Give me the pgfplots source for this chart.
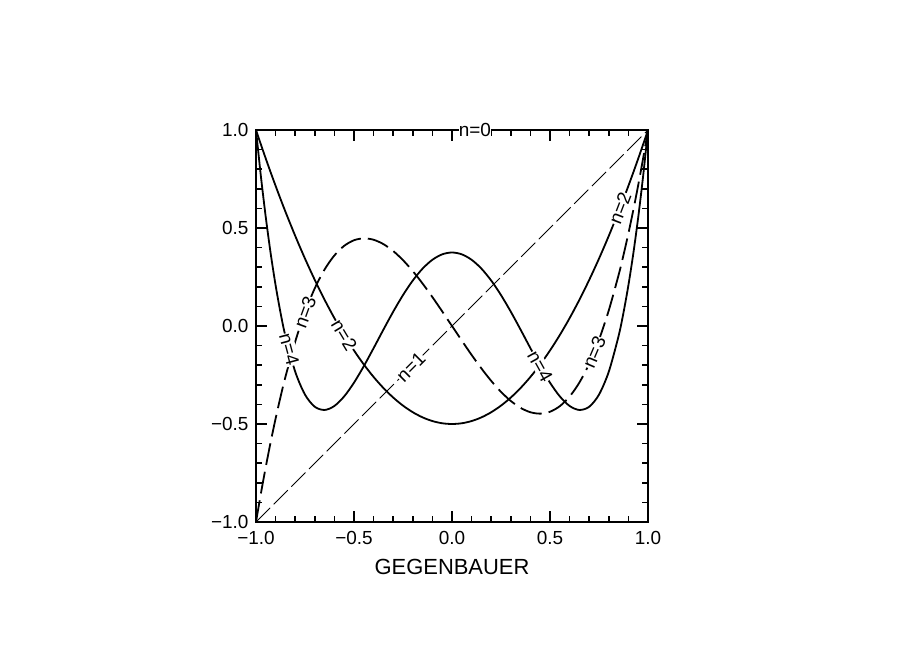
\documentclass[border=0pt]{standalone}
\usepackage{pgfplots}
\pgfplotsset{compat=1.18}
\usepackage{fontspec}
\setmainfont{Liberation Sans}
\begin{document}
\begin{tikzpicture}
\begin{axis}[
  at={(0,0)}, anchor=south west,
  scale only axis, width=392bp, height=392bp,
  xmin=-1, xmax=1, ymin=-1, ymax=1,
  axis line style={line width=2.4bp},
  tick style={line width=1.6bp, black},
  tick align=inside,
  major tick length=11bp, minor tick length=6bp,
  xtick={-1,-0.5,0,0.5,1}, ytick={-1,-0.5,0,0.5,1},
  minor tick num=4,
  xticklabels={−1.0,−0.5,0.0,0.5,1.0},
  yticklabels={−1.0,−0.5,0.0,0.5,1.0},
  ticklabel style={font=\fontsize{19}{19}\selectfont},
  xticklabel style={yshift=-6bp},
  yticklabel style={xshift=-4bp},
  xlabel={GEGENBAUER},
  xlabel style={font=\fontsize{22}{22}\selectfont, yshift=-7bp},
  clip=false,
]
% n=0
\addplot[black, line width=1.8bp] coordinates {(-1,1) (1,1)};
% n=1
\addplot[black, line width=0.8bp, dash pattern=on 20bp off 5bp] coordinates {(-1,-1) (1,1)};
% n=2
\addplot[black, line width=1.8bp, smooth] coordinates {
(-1,1) (-0.975,0.925938) (-0.95,0.85375) (-0.925,0.783438) (-0.9,0.715) (-0.875,0.648438)
(-0.85,0.58375) (-0.8,0.46) (-0.75,0.34375) (-0.7,0.235) (-0.65,0.13375) (-0.6,0.04)
(-0.55,-0.04625) (-0.5,-0.125) (-0.45,-0.19625) (-0.4,-0.26) (-0.35,-0.31625) (-0.3,-0.365)
(-0.25,-0.40625) (-0.2,-0.44) (-0.15,-0.46625) (-0.1,-0.485) (-0.05,-0.49625) (0,-0.5)
(0.05,-0.49625) (0.1,-0.485) (0.15,-0.46625) (0.2,-0.44) (0.25,-0.40625) (0.3,-0.365)
(0.35,-0.31625) (0.4,-0.26) (0.45,-0.19625) (0.5,-0.125) (0.55,-0.04625) (0.6,0.04)
(0.65,0.13375) (0.7,0.235) (0.75,0.34375) (0.8,0.46) (0.85,0.58375) (0.875,0.648438)
(0.9,0.715) (0.925,0.783438) (0.95,0.85375) (0.975,0.925938) (1,1)};
% n=3
\addplot[black, line width=1.8bp, smooth, dash pattern=on 22bp off 7bp] coordinates {
(-1,-1) (-0.975,-0.854648) (-0.95,-0.718438) (-0.925,-0.591133) (-0.9,-0.4725) (-0.875,-0.362305)
(-0.85,-0.260313) (-0.8,-0.08) (-0.75,0.070313) (-0.7,0.1925) (-0.65,0.288438) (-0.6,0.36)
(-0.55,0.409063) (-0.5,0.4375) (-0.45,0.447188) (-0.4,0.44) (-0.35,0.417813) (-0.3,0.3825)
(-0.25,0.335938) (-0.2,0.28) (-0.15,0.216563) (-0.1,0.1475) (-0.05,0.074688) (0,0)
(0.05,-0.074688) (0.1,-0.1475) (0.15,-0.216563) (0.2,-0.28) (0.25,-0.335938) (0.3,-0.3825)
(0.35,-0.417813) (0.4,-0.44) (0.45,-0.447188) (0.5,-0.4375) (0.55,-0.409063) (0.6,-0.36)
(0.65,-0.288438) (0.7,-0.1925) (0.75,-0.070313) (0.8,0.08) (0.85,0.260313) (0.875,0.362305)
(0.9,0.4725) (0.925,0.591133) (0.95,0.718438) (0.975,0.854648) (1,1)};
% n=4
\addplot[black, line width=1.8bp, smooth] coordinates {
(-1,1) (-0.975,0.763792) (-0.95,0.55409) (-0.925,0.369317) (-0.9,0.207938) (-0.875,0.068451)
(-0.85,-0.050598) (-0.8,-0.233) (-0.75,-0.350098) (-0.7,-0.412063) (-0.65,-0.42841) (-0.6,-0.408)
(-0.55,-0.359035) (-0.5,-0.289063) (-0.45,-0.204973) (-0.4,-0.113) (-0.35,-0.018723) (-0.3,0.072938)
(-0.25,0.157715) (-0.2,0.232) (-0.15,0.29284) (-0.1,0.337938) (-0.05,0.365652) (0,0.375)
(0.05,0.365652) (0.1,0.337938) (0.15,0.29284) (0.2,0.232) (0.25,0.157715) (0.3,0.072938)
(0.35,-0.018723) (0.4,-0.113) (0.45,-0.204973) (0.5,-0.289063) (0.55,-0.359035) (0.6,-0.408)
(0.65,-0.42841) (0.7,-0.412063) (0.75,-0.350098) (0.8,-0.233) (0.85,-0.050598) (0.875,0.068451)
(0.9,0.207938) (0.925,0.369317) (0.95,0.55409) (0.975,0.763792) (1,1)};
% curve labels
\tikzset{lab/.style={fill=white, inner sep=0.5bp, font=\fontsize{19}{19}\selectfont}}
\node[lab, inner sep=0bp] at (axis cs:0.117,1.0) {n=0};
\node[lab, rotate=45] at (axis cs:-0.21,-0.21) {n=1};
\node[lab, rotate=-59] at (axis cs:-0.55,-0.046) {n=2};
\node[lab, rotate=69] at (axis cs:0.857,0.60) {n=2};
\node[lab, rotate=70] at (axis cs:-0.75,0.07) {n=3};
\node[lab, rotate=67] at (axis cs:0.725,-0.135) {n=3};
\node[lab, rotate=-75] at (axis cs:-0.83,-0.12) {n=4};
\node[lab, rotate=-61] at (axis cs:0.45,-0.205) {n=4};
\end{axis}
\useasboundingbox (-256bp,-132bp) rectangle (648bp,522bp);
\end{tikzpicture}
\end{document}
